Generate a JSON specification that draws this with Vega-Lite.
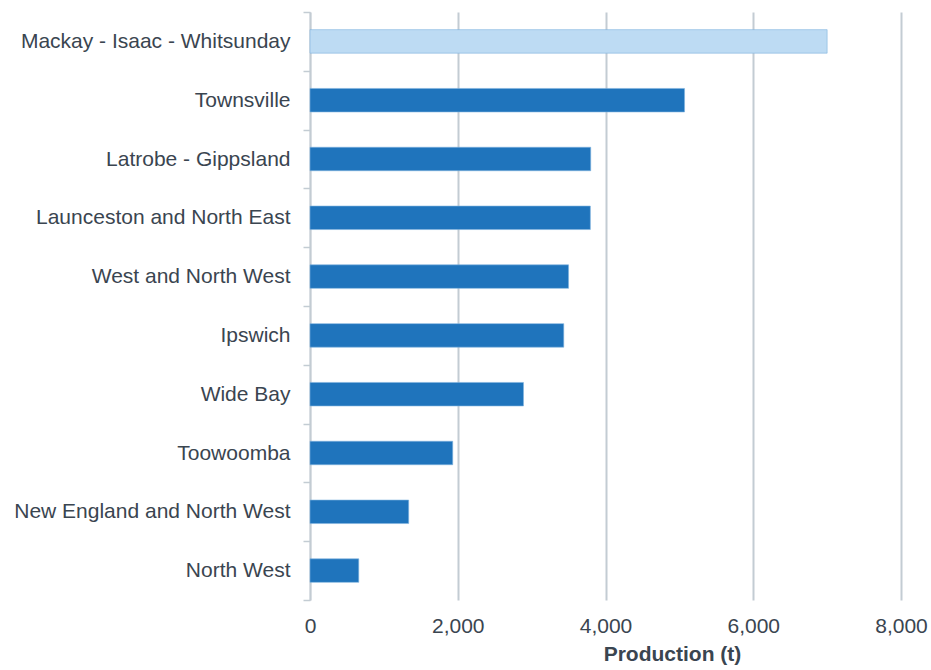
{
  "$schema": "https://vega.github.io/schema/vega-lite/v6.json",
  "autosize": "none",
  "width": 591,
  "height": 588,
  "padding": {"left": 310, "top": 12, "right": 30, "bottom": 70},
  "background": "white",
  "config": {"view": {"stroke": null}, "font": "Liberation Sans"},
  "data": {"values": [
    {"region": "Mackay - Isaac - Whitsunday", "production": 7000, "highlight": "yes"},
    {"region": "Townsville", "production": 5070, "highlight": "no"},
    {"region": "Latrobe - Gippsland", "production": 3800, "highlight": "no"},
    {"region": "Launceston and North East", "production": 3795, "highlight": "no"},
    {"region": "West and North West", "production": 3500, "highlight": "no"},
    {"region": "Ipswich", "production": 3435, "highlight": "no"},
    {"region": "Wide Bay", "production": 2890, "highlight": "no"},
    {"region": "Toowoomba", "production": 1932, "highlight": "no"},
    {"region": "New England and North West", "production": 1336, "highlight": "no"},
    {"region": "North West", "production": 660, "highlight": "no"}
  ]},
  "mark": {"type": "bar", "height": {"band": 0.4}, "stroke": "#7fb3df", "strokeWidth": 0.6},
  "encoding": {
    "y": {
      "field": "region", "type": "nominal", "sort": null,
      "scale": {"paddingInner": 0, "paddingOuter": 0},
      "axis": {
        "title": null, "tickBand": "extent", "grid": false,
        "domainColor": "#c3ccd3", "domainWidth": 1.5,
        "tickColor": "#c3ccd3", "tickWidth": 1.5, "tickSize": 7,
        "labelFont": "Liberation Sans", "labelFontSize": 21, "labelColor": "#3a4550",
        "labelPadding": 13, "labelLimit": 320
      }
    },
    "x": {
      "field": "production", "type": "quantitative",
      "scale": {"domain": [0, 8000], "nice": false},
      "axis": {
        "values": [0, 2000, 4000, 6000, 8000], "format": ",d",
        "title": "Production (t)", "titleFont": "Liberation Sans", "titleFontSize": 21,
        "titleFontWeight": "bold", "titleColor": "#3a4550", "titleX": 362, "titleY": 60, "titleBaseline": "alphabetic",
        "labelFont": "Liberation Sans", "labelFontSize": 21, "labelColor": "#3a4550",
        "labelPadding": 15, "labelFlush": false,
        "domain": false, "ticks": false,
        "grid": true, "gridColor": "#c3ccd3", "gridWidth": 2
      }
    },
    "color": {
      "field": "highlight", "type": "nominal", "legend": null,
      "scale": {"domain": ["yes", "no"], "range": ["#bddbf3", "#1f74bc"]}
    }
  }
}
